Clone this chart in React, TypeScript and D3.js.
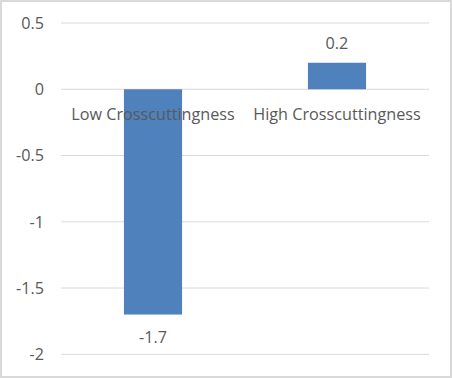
import React, { useEffect } from "react";
import * as d3 from "d3";

const categories = ["Low Crosscuttingness", "High Crosscuttingness"];
const values = [-1.7, 0.2];
const valueLabels = ["-1.7", "0.2"];
const yTicks = [0.5, 0, -0.5, -1, -1.5, -2];
const yTickLabels = ["0.5", "0", "-0.5", "-1", "-1.5", "-2"];

const W = 452;
const H = 378;
const plotLeft = 61;
const plotRight = 429;
const plotTop = 23;
const plotBottom = 354.3;
const font = "'Open Sans', sans-serif";
const fs = 16.2;
const textColor = "#595959";

export default function App() {
  useEffect(() => {
    document.body.style.margin = "0";
  }, []);

  const y = d3.scaleLinear().domain([-2, 0.5]).range([plotBottom, plotTop]);
  const x = d3
    .scaleBand<string>()
    .domain(categories)
    .range([plotLeft, plotRight])
    .paddingInner(0.684)
    .paddingOuter(0.342);

  return (
    <svg width={W} height={H} style={{ display: "block" }}>
      <rect x={1} y={1} width={W - 2} height={H - 2} fill="#fff" stroke="#d9d9d9" strokeWidth={2} />
      {yTicks.map((t, i) => (
        <g key={t}>
          <line x1={plotLeft} x2={plotRight} y1={y(t)} y2={y(t)} stroke="#d9d9d9" strokeWidth={1} />
          <text
            x={44}
            y={y(t) + 5.8}
            textAnchor="end"
            fontFamily={font}
            fontSize={fs}
            fill={textColor}
          >
            {yTickLabels[i]}
          </text>
        </g>
      ))}
      {categories.map((c, i) => {
        const v = values[i];
        const bx = x(c)!;
        const bw = x.bandwidth();
        const top = y(Math.max(0, v));
        const bot = y(Math.min(0, v));
        return (
          <g key={c}>
            <rect x={bx} y={top} width={bw} height={bot - top} fill="#4f81bd" />
            <text
              x={bx + bw / 2}
              y={v < 0 ? bot + 28 : top - 13.5}
              textAnchor="middle"
              fontFamily={font}
              fontSize={fs}
              fill={textColor}
            >
              {valueLabels[i]}
            </text>
          </g>
        );
      })}
      {categories.map((c) => (
        <text
          key={c + "lab"}
          x={x(c)! + x.bandwidth() / 2}
          y={120}
          textAnchor="middle"
          fontFamily={font}
          fontSize={fs}
          fill={textColor}
        >
          {c}
        </text>
      ))}
    </svg>
  );
}
